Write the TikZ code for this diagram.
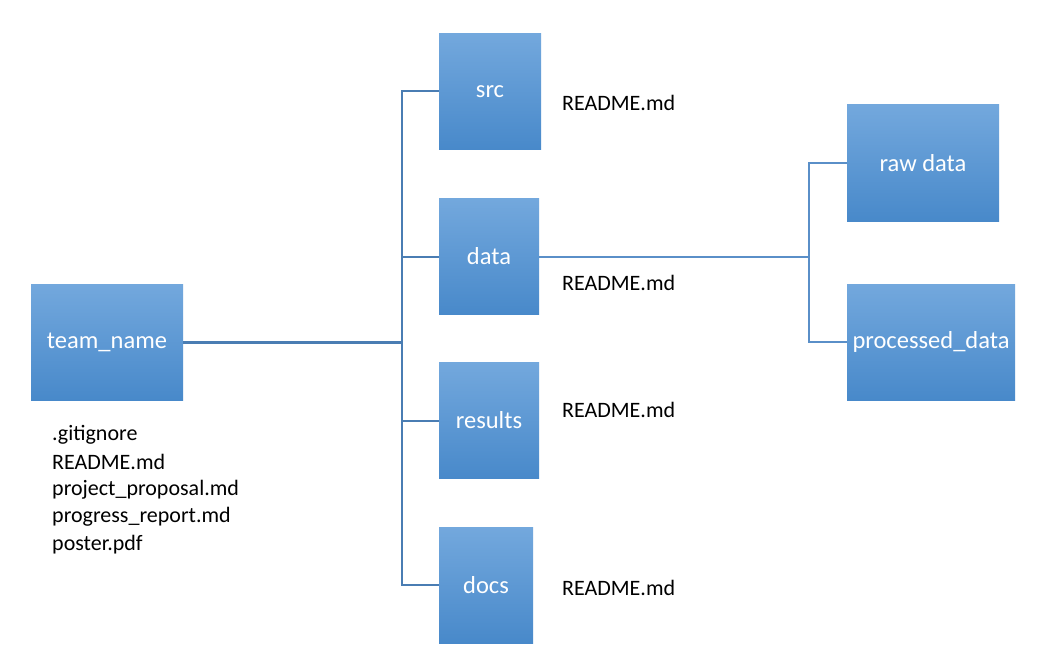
\documentclass[tikz,border=0pt]{standalone}
\usepackage{fontspec}
\setmainfont{Carlito}
\definecolor{boxtop}{HTML}{73A8DD}
\definecolor{boxbot}{HTML}{4889CA}
\definecolor{linecol}{HTML}{4A7DB3}
\definecolor{linelight}{HTML}{5A8FC8}
\begin{document}
\begin{tikzpicture}[x=1pt,y=-1pt,
  folder/.style={rectangle, inner sep=0pt, top color=boxtop, bottom color=boxbot,
    draw=none, text=white, font=\fontsize{24.5}{29}\selectfont, minimum height=116pt},
  fname/.style={anchor=west, inner sep=0pt, text=black, font=\fontsize{22}{27}\selectfont},
  conn/.style={draw=linecol, line width=2pt},
  connthick/.style={draw=linecol, line width=3pt},
  connlight/.style={draw=linelight, line width=2pt}]
\useasboundingbox (0,0) rectangle (1049,671);
\fill[white] (0,0) rectangle (1049,671);
% boxes
\node[folder, minimum width=152pt] (team) at (107,342) {team\_name};
\node[folder, minimum width=102pt] (src) at (490,91.5) {src};
\node[folder, minimum width=100pt] (data) at (489,256.5) {data};
\node[folder, minimum width=100pt] (results) at (489,420.5) {results};
\node[folder, minimum width=94pt] (docs) at (486,585) {docs};
\node[folder, minimum width=152pt] (raw) at (923,163) {raw data};
\node[folder, minimum width=168pt] (proc) at (931,342) {processed\_data};
% junctions
\coordinate (j) at (402,342);
\coordinate (k) at (809,256.5);
% connectors
\draw[conn] (src.west) -| (j);
\draw[conn] (docs.west) -| (j);
\draw[conn] (data.west) -- (data.west -| j);
\draw[conn] (results.west) -- (results.west -| j);
\draw[connthick] (team.east) -- (j);
\draw[connlight] (data.east) -- (k);
\draw[connlight] (raw.west) -| (k);
\draw[connlight] (proc.west) -| (k);
% file labels
\node[fname] (rsrc) at (562,103) {README.md};
\node[fname] (rdata) at (562,283) {README.md};
\node[fname] (rres) at (562,410) {README.md};
\node[fname] (rdocs) at (562,588) {README.md};
\node[fname] (f1) at (52,435) {.gitignore};
\node[fname] (f2) at (52,462) {README.md};
\node[fname] (f3) at (52,489.5) {project\_proposal.md};
\node[fname] (f4) at (52,517) {progress\_report.md};
\node[fname] (f5) at (52,544.5) {poster.pdf};
\end{tikzpicture}
\end{document}
